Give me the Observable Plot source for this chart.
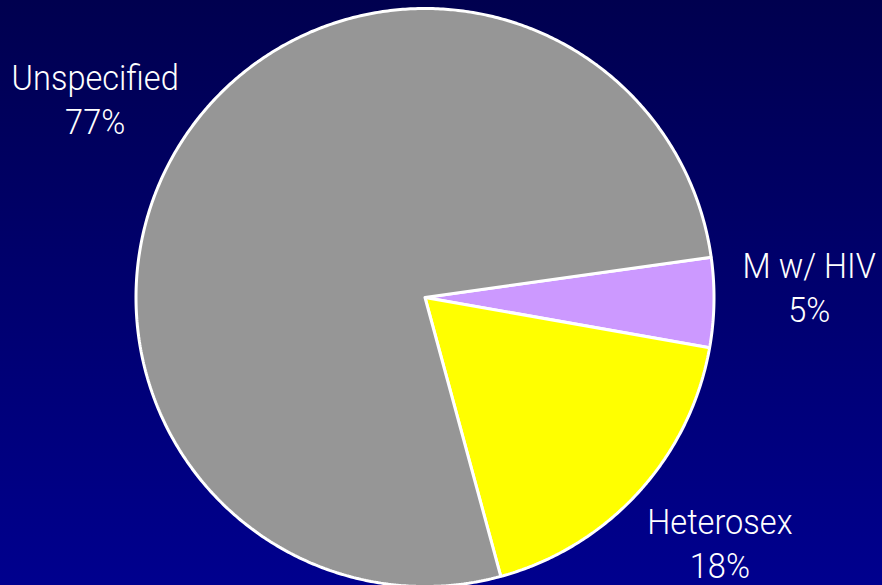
<!DOCTYPE html>
<html>
<head>
<meta charset="utf-8">
<script src="https://cdn.jsdelivr.net/npm/d3@7"></script>
<script src="https://cdn.jsdelivr.net/npm/@observablehq/plot@0.6"></script>
<style>
  html, body { margin: 0; padding: 0; background: #000066; }
  #chart svg { display: block; }
</style>
</head>
<body>
<div id="chart"></div>
<script>
// Data
const categories = ["M w/ HIV", "Heterosex", "Unspecified"];
const percents = [5, 18, 77];
const sliceColors = ["#cc99ff", "#ffff00", "#969696"];

const W = 882, H = 585;
const cx = 424.5, cy = 297, R = 289;
const startDeg = 82; // clockwise from 12 o'clock

const pie = d3.pie().sort(null).value(d => d.value).startAngle(startDeg * Math.PI / 180).endAngle((startDeg + 360) * Math.PI / 180);
const arcs = pie(categories.map((c, i) => ({label: c, value: percents[i]})));

// Build slice outlines in unit (data) coordinates
const points = [];
arcs.forEach(a => {
  const lbl = a.data.label;
  points.push({label: lbl, x: 0, y: 0});
  const steps = Math.max(4, Math.ceil((a.endAngle - a.startAngle) / (Math.PI / 360)));
  for (let k = 0; k <= steps; k++) {
    const t = a.startAngle + (a.endAngle - a.startAngle) * k / steps;
    points.push({label: lbl, x: Math.sin(t), y: Math.cos(t)});
  }
  points.push({label: lbl, x: 0, y: 0});
});

const labelR = 1.33;
const labelShift = -2.5 * Math.PI / 180;
const labels = arcs.map(a => {
  const m = (a.startAngle + a.endAngle) / 2 + labelShift;
  return {text: `${a.data.label}\n${a.data.value}%`, x: labelR * Math.sin(m), y: labelR * Math.cos(m)};
});

const chart = Plot.plot({
  width: W,
  height: H,
  margin: 0,
  x: {domain: [-1, 1], range: [cx - R, cx + R], axis: null},
  y: {domain: [-1, 1], range: [cy + R, cy - R], axis: null},
  color: {domain: categories, range: sliceColors},
  style: {background: "linear-gradient(to bottom, #00004f, #00008e)", overflow: "visible"},
  marks: [
    Plot.line(points, {x: "x", y: "y", z: "label", fill: "label", stroke: "white", strokeWidth: 3, strokeLinejoin: "miter", curve: "linear"}),
    Plot.text(labels, {x: "x", y: "y", dy: -2, text: "text", fill: "white", fontSize: 35, fontWeight: 300, fontFamily: "Roboto, Liberation Sans, Arial, sans-serif", lineHeight: 1.26, textAnchor: "middle", lineAnchor: "middle"})
  ]
});
// Condense the label glyphs horizontally (reference uses a narrow face)
chart.querySelectorAll("text").forEach(t => {
  const tr = t.getAttribute("transform");
  if (tr) {
    t.setAttribute("transform", tr + " scale(0.93,1)");
  } else {
    const x = +(t.getAttribute("x") || 0), y = +(t.getAttribute("y") || 0);
    t.removeAttribute("x"); t.removeAttribute("y");
    t.setAttribute("transform", `translate(${x},${y}) scale(0.93,1)`);
  }
});
document.getElementById("chart").appendChild(chart);
</script>
</body>
</html>
